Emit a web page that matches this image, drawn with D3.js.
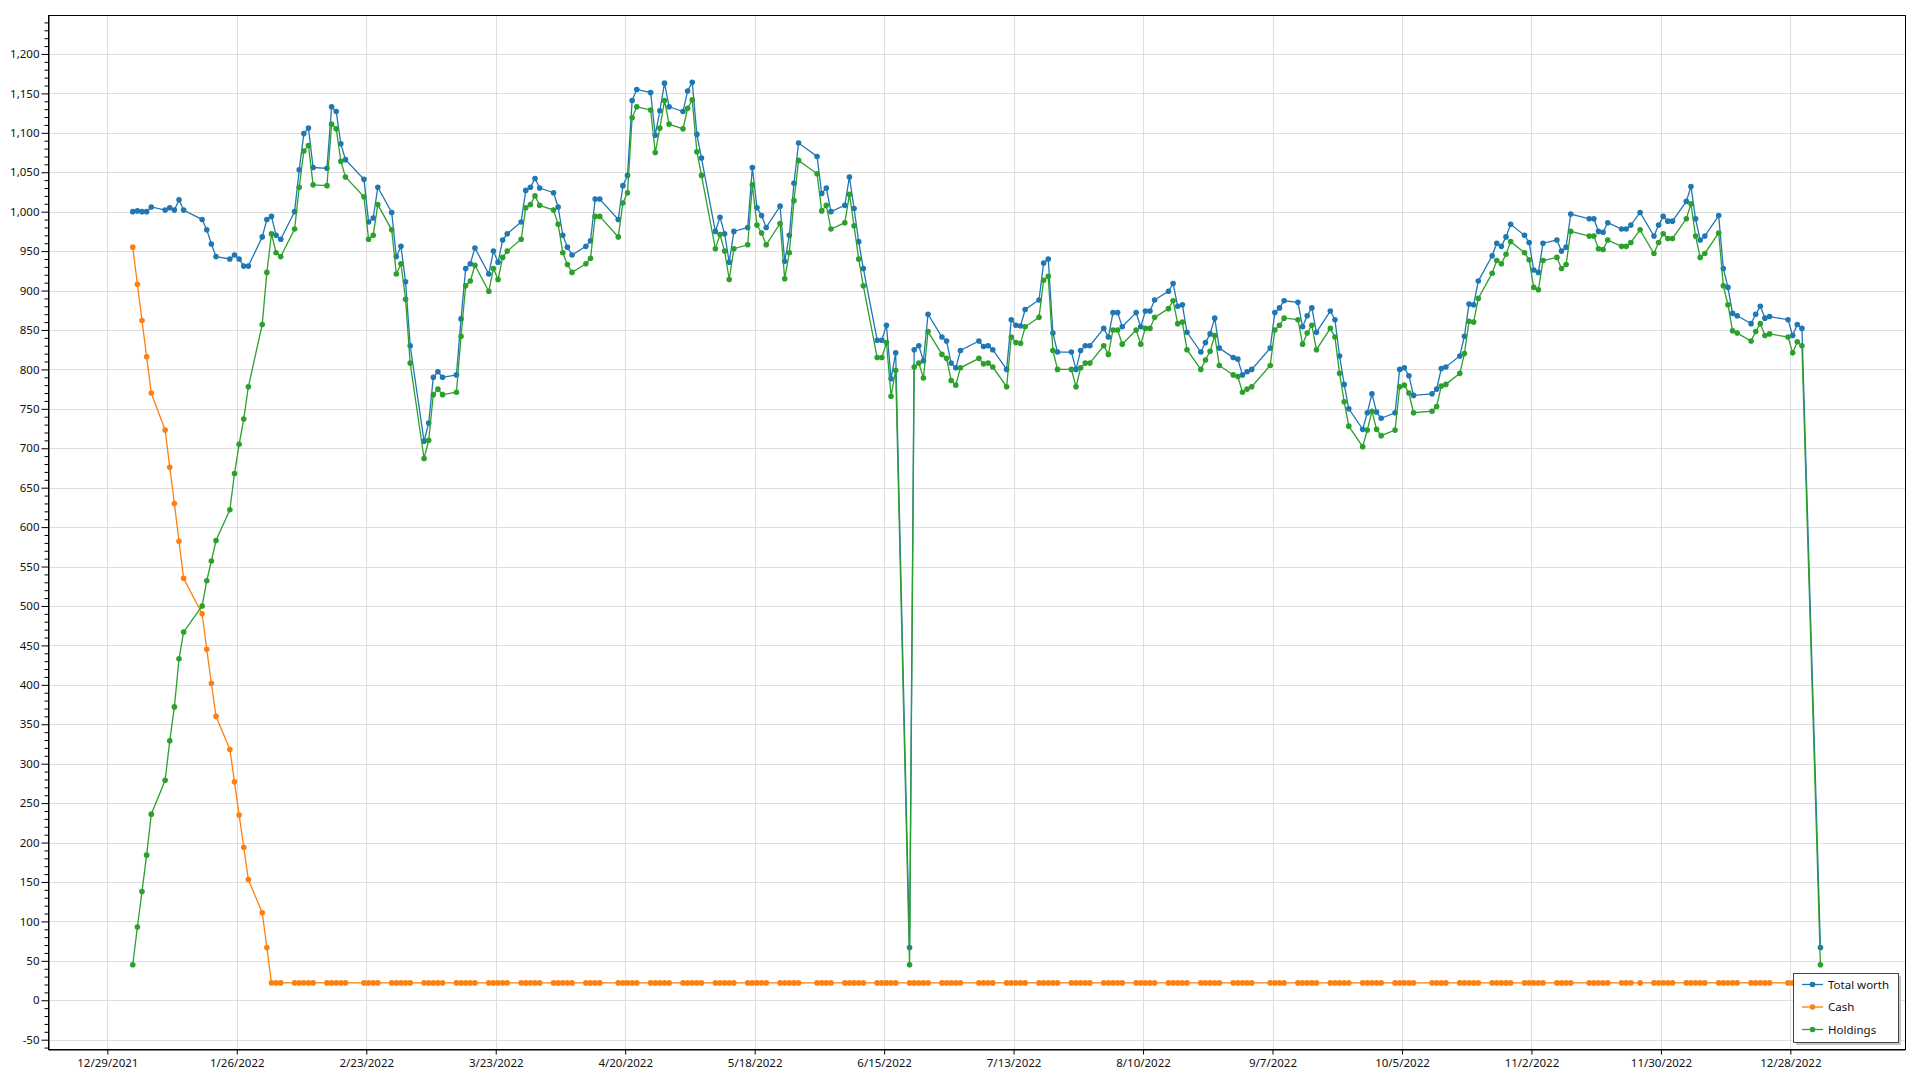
<!DOCTYPE html>
<html lang="en">
<head>
  <meta charset="UTF-8">
  <title>Portfolio worth</title>
  <script src="https://d3js.org/d3.v7.min.js"></script>
  <style>
    body { margin: 0; background: #fff; }
    text { font-family: "Noto Sans", "Open Sans", sans-serif; font-size: 11.5px; fill: #111; }
  </style>
</head>
<body>
  <div id="chart"></div>
  <script>
    // trading days (one line per month)
    const tradingDays = [
      "2022-01-03","2022-01-04","2022-01-05","2022-01-06","2022-01-07","2022-01-10","2022-01-11","2022-01-12","2022-01-13","2022-01-14","2022-01-18","2022-01-19","2022-01-20","2022-01-21","2022-01-24","2022-01-25","2022-01-26","2022-01-27","2022-01-28","2022-01-31",
      "2022-02-01","2022-02-02","2022-02-03","2022-02-04","2022-02-07","2022-02-08","2022-02-09","2022-02-10","2022-02-11","2022-02-14","2022-02-15","2022-02-16","2022-02-17","2022-02-18","2022-02-22","2022-02-23","2022-02-24","2022-02-25","2022-02-28",
      "2022-03-01","2022-03-02","2022-03-03","2022-03-04","2022-03-07","2022-03-08","2022-03-09","2022-03-10","2022-03-11","2022-03-14","2022-03-15","2022-03-16","2022-03-17","2022-03-18","2022-03-21","2022-03-22","2022-03-23","2022-03-24","2022-03-25","2022-03-28","2022-03-29","2022-03-30","2022-03-31",
      "2022-04-01","2022-04-04","2022-04-05","2022-04-06","2022-04-07","2022-04-08","2022-04-11","2022-04-12","2022-04-13","2022-04-14","2022-04-18","2022-04-19","2022-04-20","2022-04-21","2022-04-22","2022-04-25","2022-04-26","2022-04-27","2022-04-28","2022-04-29",
      "2022-05-02","2022-05-03","2022-05-04","2022-05-05","2022-05-06","2022-05-09","2022-05-10","2022-05-11","2022-05-12","2022-05-13","2022-05-16","2022-05-17","2022-05-18","2022-05-19","2022-05-20","2022-05-23","2022-05-24","2022-05-25","2022-05-26","2022-05-27","2022-05-31",
      "2022-06-01","2022-06-02","2022-06-03","2022-06-06","2022-06-07","2022-06-08","2022-06-09","2022-06-10","2022-06-13","2022-06-14","2022-06-15","2022-06-16","2022-06-17","2022-06-20","2022-06-21","2022-06-22","2022-06-23","2022-06-24","2022-06-27","2022-06-28","2022-06-29","2022-06-30",
      "2022-07-01","2022-07-05","2022-07-06","2022-07-07","2022-07-08","2022-07-11","2022-07-12","2022-07-13","2022-07-14","2022-07-15","2022-07-18","2022-07-19","2022-07-20","2022-07-21","2022-07-22","2022-07-25","2022-07-26","2022-07-27","2022-07-28","2022-07-29",
      "2022-08-01","2022-08-02","2022-08-03","2022-08-04","2022-08-05","2022-08-08","2022-08-09","2022-08-10","2022-08-11","2022-08-12","2022-08-15","2022-08-16","2022-08-17","2022-08-18","2022-08-19","2022-08-22","2022-08-23","2022-08-24","2022-08-25","2022-08-26","2022-08-29","2022-08-30","2022-08-31",
      "2022-09-01","2022-09-02","2022-09-06","2022-09-07","2022-09-08","2022-09-09","2022-09-12","2022-09-13","2022-09-14","2022-09-15","2022-09-16","2022-09-19","2022-09-20","2022-09-21","2022-09-22","2022-09-23","2022-09-26","2022-09-27","2022-09-28","2022-09-29","2022-09-30",
      "2022-10-03","2022-10-04","2022-10-05","2022-10-06","2022-10-07","2022-10-11","2022-10-12","2022-10-13","2022-10-14","2022-10-17","2022-10-18","2022-10-19","2022-10-20","2022-10-21","2022-10-24","2022-10-25","2022-10-26","2022-10-27","2022-10-28","2022-10-31",
      "2022-11-01","2022-11-02","2022-11-03","2022-11-04","2022-11-07","2022-11-08","2022-11-09","2022-11-10","2022-11-14","2022-11-15","2022-11-16","2022-11-17","2022-11-18","2022-11-21","2022-11-22","2022-11-23","2022-11-25","2022-11-28","2022-11-29","2022-11-30",
      "2022-12-01","2022-12-02","2022-12-05","2022-12-06","2022-12-07","2022-12-08","2022-12-09","2022-12-12","2022-12-13","2022-12-14","2022-12-15","2022-12-16","2022-12-19","2022-12-20","2022-12-21","2022-12-22","2022-12-23","2022-12-27","2022-12-28","2022-12-29","2022-12-30",
      "2023-01-03"
    ];

    const totalWorth = [
      1000,1001,1000,1000,1006,1002,1005,1002,1015,1002,990,977,959,943,940,945,940,931,931,968,
      990,994,970,965,1000,1053,1099,1106,1056,1055,1133,1127,1086,1066,1041,987,992,1031,999,
      943,956,911,830,709,732,790,797,790,793,864,928,934,954,921,950,936,964,972,987,1027,1031,1042,
      1030,1024,1006,970,955,945,956,963,1016,1016,990,1033,1046,1141,1155,1151,1097,1128,1163,1133,
      1127,1153,1164,1098,1068,975,993,972,936,975,980,1056,1005,995,980,1007,937,970,1036,1087,1070,
      1023,1030,1000,1008,1044,1004,962,928,837,837,856,788,821,67,825,830,811,870,841,836,808,802,
      824,836,829,830,825,800,863,856,855,876,888,935,940,846,822,822,800,824,830,830,
      852,841,872,872,854,872,854,874,874,888,899,909,880,882,847,822,834,845,865,827,815,813,793,
      797,800,827,872,878,887,885,854,868,878,847,874,863,817,781,750,724,745,769,746,738,
      745,800,802,792,767,769,775,801,803,817,842,883,882,912,944,960,956,968,984,970,
      961,926,923,960,964,950,955,997,991,991,975,974,986,978,978,983,999,969,983,994,
      988,988,1013,1032,991,964,969,995,928,904,871,868,858,870,880,865,867,863,843,857,852,
      67
    ];

    const cash = [
      955,908,862,816,770,723,676,630,582,535,490,445,402,360,318,277,235,194,153,111,
      67,22,22,22,22,22,22,22,22,22,22,22,22,22,22,22,22,22,22,
      22,22,22,22,22,22,22,22,22,22,22,22,22,22,22,22,22,22,22,22,22,22,22,
      22,22,22,22,22,22,22,22,22,22,22,22,22,22,22,22,22,22,22,22,
      22,22,22,22,22,22,22,22,22,22,22,22,22,22,22,22,22,22,22,22,22,
      22,22,22,22,22,22,22,22,22,22,22,22,22,22,22,22,22,22,22,22,22,22,
      22,22,22,22,22,22,22,22,22,22,22,22,22,22,22,22,22,22,22,22,
      22,22,22,22,22,22,22,22,22,22,22,22,22,22,22,22,22,22,22,22,22,22,22,
      22,22,22,22,22,22,22,22,22,22,22,22,22,22,22,22,22,22,22,22,22,
      22,22,22,22,22,22,22,22,22,22,22,22,22,22,22,22,22,22,22,22,
      22,22,22,22,22,22,22,22,22,22,22,22,22,22,22,22,22,22,22,22,
      22,22,22,22,22,22,22,22,22,22,22,22,22,22,22,22,22,22,22,22,22,
      22
    ];

    const holdings = [
      45,93,138,184,236,279,329,372,433,467,500,532,557,583,622,668,705,737,778,857,
      923,972,948,943,978,1031,1077,1084,1034,1033,1111,1105,1064,1044,1019,965,970,1009,977,
      921,934,889,808,687,710,768,775,768,771,842,906,912,932,899,928,914,942,950,965,1005,1009,1020,
      1008,1002,984,948,933,923,934,941,994,994,968,1011,1024,1119,1133,1129,1075,1106,1141,1111,
      1105,1131,1142,1076,1046,953,971,950,914,953,958,1034,983,973,958,985,915,948,1014,1065,1048,
      1001,1008,978,986,1022,982,940,906,815,815,834,766,799,45,803,808,789,848,819,814,786,780,
      802,814,807,808,803,778,841,834,833,854,866,913,918,824,800,800,778,802,808,808,
      830,819,850,850,832,850,832,852,852,866,877,887,858,860,825,800,812,823,843,805,793,791,771,
      775,778,805,850,856,865,863,832,846,856,825,852,841,795,759,728,702,723,747,724,716,
      723,778,780,770,745,747,753,779,781,795,820,861,860,890,922,938,934,946,962,948,
      939,904,901,938,942,928,933,975,969,969,953,952,964,956,956,961,977,947,961,972,
      966,966,991,1010,969,942,947,973,906,882,849,846,836,848,858,843,845,841,821,835,830,
      45
    ];

    const seriesNames = ["Total worth", "Cash", "Holdings"];
    const seriesColors = ["#1f77b4", "#ff7f0e", "#2ca02c"];
    const xTickLabels = ["12/29/2021","1/26/2022","2/23/2022","3/23/2022","4/20/2022","5/18/2022","6/15/2022",
                         "7/13/2022","8/10/2022","9/7/2022","10/5/2022","11/2/2022","11/30/2022","12/28/2022"];
    const yTicks = d3.range(-50, 1201, 50);
    const yMinorTicks = d3.range(-60, 1241, 10);

    const plot = { left: 48, top: 15, right: 1905, bottom: 1049 };

    const svg = d3.select("#chart").append("svg")
      .attr("width", 1920)
      .attr("height", 1080);

    const parseDay = d3.timeParse("%Y-%m-%d %H");
    const parseTick = d3.timeParse("%m/%d/%Y");
    const dates = tradingDays.map(s => parseDay(s + " 12"));
    const tickDates = xTickLabels.map(parseTick);

    const x = d3.scaleTime()
      .domain([new Date(2021, 11, 16, 4), new Date(2023, 0, 21, 19)])
      .range([plot.left, plot.right]);
    const y = d3.scaleLinear()
      .domain([-61.8, 1249.4])
      .range([plot.bottom, plot.top]);

    const fmt = d3.formatLocale({ decimal: ".", thousands: ",", grouping: [3], currency: ["$", ""], minus: "-" }).format(",");

    // grid
    const grid = svg.append("g").attr("stroke", "#dedede").attr("stroke-width", 1);
    grid.selectAll(".hy").data(yTicks).join("line")
      .attr("x1", plot.left).attr("x2", plot.right)
      .attr("y1", d => Math.round(y(d)) + 0.5).attr("y2", d => Math.round(y(d)) + 0.5);
    grid.selectAll(".vx").data(tickDates).join("line")
      .attr("y1", plot.top).attr("y2", plot.bottom)
      .attr("x1", d => Math.round(x(d)) + 0.5).attr("x2", d => Math.round(x(d)) + 0.5);

    // axes
    svg.append("g")
      .attr("transform", `translate(${plot.left + 0.5},0)`)
      .call(d3.axisLeft(y).tickValues(yTicks).tickFormat(fmt).tickSize(7).tickSizeOuter(0).tickPadding(2));
    svg.append("g")
      .attr("transform", `translate(${plot.left + 0.5},0)`)
      .call(d3.axisLeft(y).tickValues(yMinorTicks.filter(v => v % 50 !== 0)).tickFormat("").tickSize(4).tickSizeOuter(0))
      .select(".domain").remove();

    svg.append("g")
      .attr("transform", `translate(0,${plot.bottom + 0.5})`)
      .call(d3.axisBottom(x).tickValues(tickDates).tickFormat(d3.timeFormat("%-m/%-d/%Y")).tickSize(5).tickSizeOuter(0).tickPadding(4));

    svg.selectAll(".domain, .tick line").attr("stroke", "#000");
    svg.selectAll(".tick text").attr("fill", "#111").style("font-size", "11.5px");

    // plot border
    svg.append("rect")
      .attr("x", plot.left + 0.5).attr("y", plot.top + 0.5)
      .attr("width", plot.right - plot.left).attr("height", plot.bottom - plot.top)
      .attr("fill", "none").attr("stroke", "#000").attr("stroke-width", 1);

    // series
    const seriesValues = [totalWorth, cash, holdings];
    svg.append("clipPath").attr("id", "clip").append("rect")
      .attr("x", plot.left).attr("y", plot.top)
      .attr("width", plot.right - plot.left).attr("height", plot.bottom - plot.top);

    const line = d3.line().x(d => x(d.date)).y(d => y(d.value));
    const layer = svg.append("g").attr("clip-path", "url(#clip)");

    seriesValues.forEach((vals, i) => {
      const pts = vals.map((v, j) => ({ date: dates[j], value: v }));
      const g = layer.append("g");
      g.append("path")
        .datum(pts)
        .attr("d", line)
        .attr("fill", "none")
        .attr("stroke", seriesColors[i])
        .attr("stroke-width", 1.3);
      g.selectAll("circle").data(pts).join("circle")
        .attr("cx", d => x(d.date))
        .attr("cy", d => y(d.value))
        .attr("r", 2.8)
        .attr("fill", seriesColors[i]);
    });

    // legend
    const lg = svg.append("g").attr("transform", "translate(1793,973)");
    lg.append("rect").attr("x", 3).attr("y", 3).attr("width", 105).attr("height", 69).attr("fill", "#c8c8c8");
    lg.append("rect").attr("x", 0.5).attr("y", 0.5).attr("width", 105).attr("height", 69)
      .attr("fill", "#fff").attr("stroke", "#444").attr("stroke-width", 1);
    seriesNames.forEach((name, i) => {
      const cy = 11.5 + i * 22.5;
      lg.append("line").attr("x1", 9).attr("x2", 30).attr("y1", cy).attr("y2", cy)
        .attr("stroke", seriesColors[i]).attr("stroke-width", 1.3);
      lg.append("circle").attr("cx", 19.5).attr("cy", cy).attr("r", 2.8).attr("fill", seriesColors[i]);
      lg.append("text").attr("x", 35).attr("y", cy).attr("dy", "0.35em").text(name);
    });
  </script>
</body>
</html>
